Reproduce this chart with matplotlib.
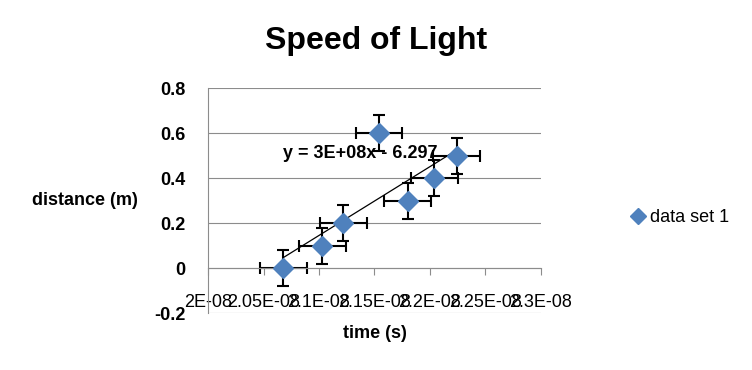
import matplotlib
matplotlib.use("Agg")
import matplotlib.pyplot as plt
import numpy as np

# data
time_s = [2.068e-8, 2.103e-8, 2.122e-8, 2.154e-8, 2.180e-8, 2.204e-8, 2.224e-8]
distance_m = [0.0, 0.1, 0.2, 0.6, 0.3, 0.4, 0.5]
time_err = 2.1e-10
dist_err = 0.08
xticks = [2.0e-8, 2.05e-8, 2.1e-8, 2.15e-8, 2.2e-8, 2.25e-8, 2.3e-8]
xticklabels = ["2E-08", "2.05E-08", "2.1E-08", "2.15E-08", "2.2E-08", "2.25E-08", "2.3E-08"]
yticks = [-0.2, 0, 0.2, 0.4, 0.6, 0.8]
yticklabels = ["-0.2", "0", "0.2", "0.4", "0.6", "0.8"]

plt.rcParams['font.family'] = ['Liberation Sans', 'DejaVu Sans']

fig = plt.figure(figsize=(7.52, 3.70), dpi=100)
ax = fig.add_axes([0.2766, 0.154, 0.4428, 0.608])

grid_c = "#8c8c8c"
ax.set_xlim(2.0e-8, 2.3e-8)
ax.set_ylim(-0.2, 0.8)
for y in yticks:
    ax.axhline(y, color=grid_c, lw=0.8, zorder=0)

ax.errorbar(time_s, distance_m, xerr=time_err, yerr=dist_err, fmt="none",
            ecolor="black", elinewidth=1.5, capsize=4, capthick=1.5, zorder=2)
ax.plot(time_s, distance_m, "D", color="#4F81BD", markersize=10.5,
        markeredgecolor="#4F81BD", label="data set 1", zorder=3)

# linear trendline
k, b = np.polyfit(time_s, distance_m, 1)
tx = np.array([min(time_s), max(time_s)])
ax.plot(tx, k * tx + b, color="black", lw=0.9, zorder=2)
ax.text(2.068e-8, 0.51, "y = 3E+08x - 6.297", fontsize=13, fontweight="bold",
        ha="left", va="center", zorder=4)

for s in ["top", "right"]:
    ax.spines[s].set_visible(False)
ax.spines["left"].set_color(grid_c)
ax.spines["bottom"].set_position(("data", 0))
ax.spines["bottom"].set_color(grid_c)

ax.set_xticks(xticks)
ax.set_xticklabels(xticklabels, fontsize=13)
ax.set_yticks(yticks)
ax.set_yticklabels(yticklabels, fontsize=13, fontweight="bold")
ax.tick_params(axis="x", length=5, color=grid_c, pad=14)
ax.tick_params(axis="y", length=0, pad=16)

fig.text(0.5, 0.888, "Speed of Light", fontsize=23, fontweight="bold",
         ha="center", va="center")
fig.text(0.113, 0.458, "distance (m)", fontsize=13, fontweight="bold",
         ha="center", va="center")
fig.text(0.4985, 0.10, "time (s)", fontsize=13, fontweight="bold",
         ha="center", va="center")

fig.legend(loc="center left", bbox_to_anchor=(0.837, 0.411), frameon=False,
           fontsize=13, handletextpad=0.15, handlelength=1.0, markerscale=0.75,
           borderpad=0, borderaxespad=0)

fig.savefig("out.png", dpi=100)
